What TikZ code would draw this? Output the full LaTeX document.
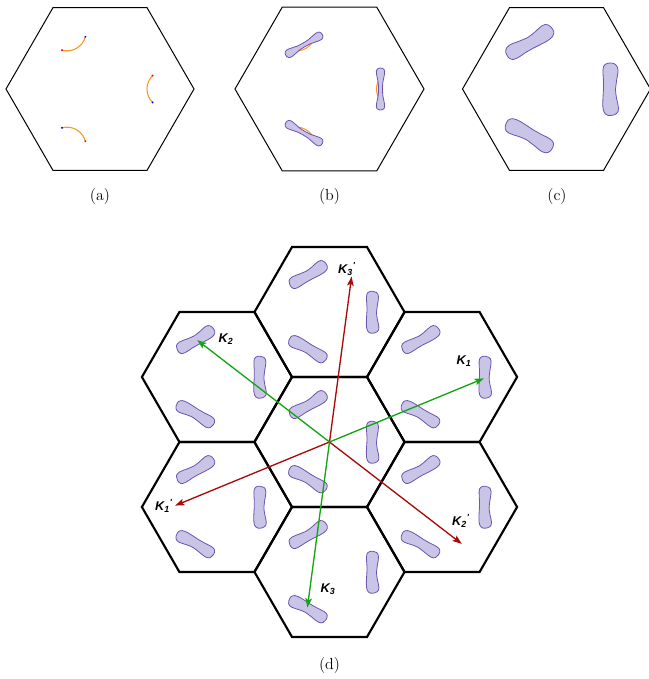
\documentclass[tikz,border=0pt]{standalone}
\usepackage{fontspec}
\newfontfamily\klab{Liberation Sans}
\usetikzlibrary{arrows.meta}

\definecolor{beanfill}{RGB}{201,197,230}
\definecolor{beanedge}{RGB}{110,82,176}
\definecolor{arcorange}{RGB}{250,150,30}
\definecolor{kgreen}{RGB}{20,165,20}
\definecolor{kred}{RGB}{170,10,10}

\tikzset{
  hexthin/.style={line width=0.75pt, black},
  hexthick/.style={line width=1.6pt, black},
  beanline/.style={draw=beanedge, fill=beanfill, line width=0.6pt},
  arcline/.style={draw=arcorange, line width=0.8pt},
  kvec/.style={line width=1pt, -{Stealth[length=7pt,width=5pt,inset=1.5pt]}},
  klabel/.style={font=\klab\bfseries\itshape\fontsize{9.5}{11}\selectfont, inner sep=0pt},
  caption/.style={font=\fontsize{12}{14}\selectfont, inner sep=0pt},
  % fat bean, long axis along y, outer side towards +x
  bean/.pic={\path[beanline] plot[smooth cycle, tension=0.7] coordinates {
      (0,-26) (5,-24.5) (7.5,-19) (6,-8) (5,0) (6,9) (8,19) (6,24.5)
      (0,26.5) (-5,25) (-7.5,19) (-7.5,8) (-7,0) (-7,-8) (-7.5,-19) (-5.5,-24.5)};},
  % thin pinched pocket
  dumbbell/.pic={\path[beanline] plot[smooth cycle, tension=0.7] coordinates {
      (0,-21) (3.5,-19.5) (4,-15) (2.2,-6) (2,0) (2.2,6) (4,15) (3.5,19.5)
      (0,21) (-3.5,19.5) (-4,15) (-2.2,6) (-2,0) (-2.2,-6) (-4,-15) (-3.5,-19.5)};},
  % Fermi arc, bulging towards the zone centre
  ferarc/.pic={\path[arcline] (135:19) arc[start angle=135, end angle=225, radius=19];},
  ferdots/.pic={\fill[red] (225:19) circle[radius=1.1]; \fill[blue] (135:19) circle[radius=1.1];}
}

% flat-topped hexagon: centre, circumradius, style
\newcommand\hexat[3]{\draw[#3] (#1) ++(0:#2) -- ++(120:#2) -- ++(180:#2) -- ++(240:#2) -- ++(300:#2) -- ++(0:#2) -- cycle;}
% three beans around a centre: centre, distance, scale
\newcommand\beanset[3]{\begin{scope}[shift={(#1)}]
  \foreach \a in {0,120,240}{\pic[rotate=\a, scale=#3] at (-\a:#2) {bean};}
  \end{scope}}

\begin{document}
\begin{tikzpicture}[x=0.75pt, y=-0.75pt]
\useasboundingbox (0,0) rectangle (649,679);

% (a) bare Fermi arcs
\hexat{100,89}{94}{hexthin}
\begin{scope}[shift={(100,89)}]
  \foreach \a in {0,120,240}{
    \pic[rotate=\a] at (-\a:66) {ferarc};
    \pic[rotate=\a] at (-\a:66) {ferdots};}
\end{scope}
\node[caption] (ca) at (100,197) {(a)};

% (b) arcs with thin pockets
\hexat{329.5,89}{94.5}{hexthin}
\begin{scope}[shift={(329.5,89)}]
  \foreach \a in {0,120,240}{
    \pic[rotate=\a] at (-\a:66) {ferarc};
    \pic[rotate=\a] at (-\a:51) {dumbbell};}
\end{scope}
\node[caption] (cb) at (329.5,197) {(b)};

% (c) full pockets
\hexat{556.5,89}{94}{hexthin}
\beanset{556.5,89}{54}{1}
\node[caption] (cc) at (557,197) {(c)};

% (d) repeated zones
\foreach \c in {{329.5,442},{329.5,312},{442.1,377},{442.1,507},{329.5,572},{216.9,507},{216.9,377}}{
  \hexat{\c}{75}{hexthick}
  \beanset{\c}{43}{0.8}
}

\coordinate (O) at (329.5,442);
\coordinate (K1) at (483.9,378.4);
\coordinate (K2) at (197.2,340.1);
\coordinate (K3) at (307.4,607.5);
\coordinate (K1p) at (175.1,505.6);
\coordinate (K2p) at (461.8,543.9);
\coordinate (K3p) at (351.6,276.5);

\draw[kvec, kred] (O) -- (K1p);
\draw[kvec, kred] (O) -- (K2p);
\draw[kvec, kred] (O) -- (K3p);
\draw[kvec, kgreen] (O) -- (K1);
\draw[kvec, kgreen] (O) -- (K2);
\draw[kvec, kgreen] (O) -- (K3);

\node[klabel] (lK1) at (464,361) {K\textsubscript{1}};
\node[klabel] (lK2) at (226,339) {K\textsubscript{2}};
\node[klabel] (lK3) at (328,589) {K\textsubscript{3}};
\node[klabel] (lK1p) at (164,506) {K\textsubscript{1}\textsuperscript{'}};
\node[klabel] (lK2p) at (461,521) {K\textsubscript{2}\textsuperscript{'}};
\node[klabel] (lK3p) at (347,269) {K\textsubscript{3}\textsuperscript{'}};

\node[caption] (cd) at (329.5,665) {(d)};
\end{tikzpicture}
\end{document}
